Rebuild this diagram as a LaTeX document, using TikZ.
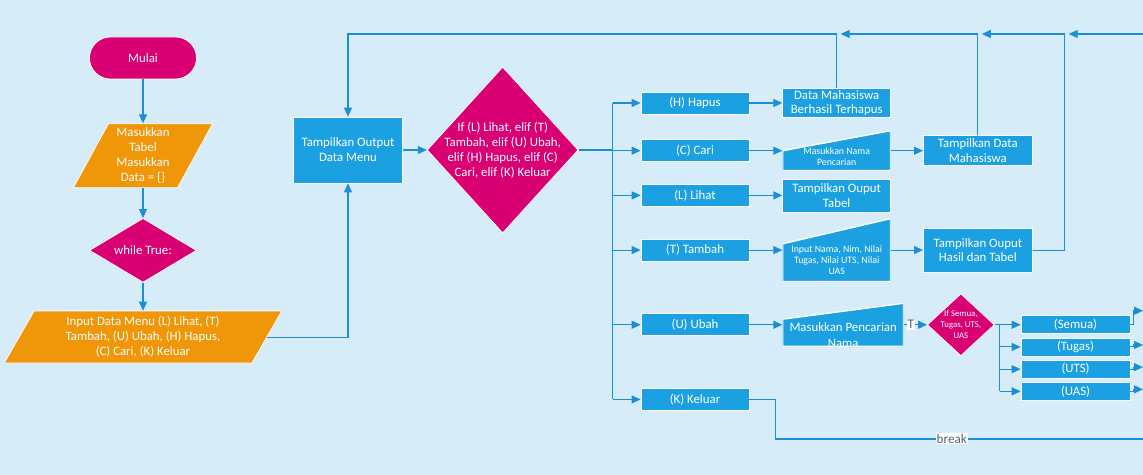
\documentclass[tikz,border=0pt]{standalone}
\usepackage{fontspec}
\setmainfont{Carlito}
\usepackage{tikz}
\usetikzlibrary{
  calc,
  positioning,
  arrows.meta,
  shapes.geometric
}
\definecolor{FlowBg}{HTML}{D6ECF8}
\definecolor{FlowBlue}{HTML}{1BA1E2}
\definecolor{FlowLine}{HTML}{1C8FD4}
\definecolor{FlowMagenta}{HTML}{D80073}
\definecolor{FlowOrange}{HTML}{F09609}
\definecolor{LabelGrey}{HTML}{4F6582}

\begin{document}
\begin{tikzpicture}[
  x=0.02cm, y=-0.02cm,
  every node/.style = {font=\fontsize{7.3}{8.5}\selectfont, text=white,
                       align=center, inner sep=1pt},
  terminal/.style   = {draw=white, fill=FlowMagenta, rounded corners=0.42cm,
                       minimum width=2.14cm, minimum height=0.84cm},
  io/.style         = {trapezium, trapezium left angle=64,
                       trapezium right angle=116, trapezium stretches=true,
                       draw=white, fill=FlowOrange},
  decision/.style   = {diamond, draw=white, fill=FlowMagenta, inner sep=0pt},
  box/.style        = {draw=white, fill=FlowBlue, minimum width=2.16cm,
                       minimum height=0.44cm},
  manin/.style      = {minimum width=2.16cm, inner sep=0pt,
                       path picture={\filldraw[fill=FlowBlue, draw=white, line width=0.8pt]
                         (path picture bounding box.south west)
                         -- (path picture bounding box.south east)
                         -- (path picture bounding box.north east)
                         -- ($(path picture bounding box.north west)!#1!(path picture bounding box.south west)$)
                         -- cycle;}},
  smalltext/.style  = {font=\fontsize{5.6}{6.4}\selectfont},
  tinytext/.style   = {font=\fontsize{5}{6.4}\selectfont},
  tlabel/.style     = {fill=white, text=LabelGrey, inner sep=0.5pt,
                       font=\fontsize{7.5}{9}\selectfont},
  arrow/.style      = {-{Triangle[length=0.18cm,width=0.16cm]}, FlowLine, line width=0.6pt},
  line/.style       = {FlowLine, line width=0.6pt}
]

  % Background
  \useasboundingbox (0,0) rectangle (1143,475);
  \fill[FlowBg] (0,0) rectangle (1143,475);

  % Start and input
  \node[terminal] (mulai) at (143,58) {Mulai};
  \node[io, minimum width=2.8cm, minimum height=1.28cm, below=0.88cm of mulai] (tabel)
    {Masukkan\\Tabel\\Masukkan\\Data = \{\}};
  \node[decision, minimum width=2.14cm, minimum height=1.28cm, below=0.6cm of tabel] (whilec) {};
  \node (whiletxt) at (whilec) {while True:};
  \node[io, minimum width=5.56cm, minimum height=1.04cm, below=0.56cm of whilec] (input)
    {Input Data Menu (L) Lihat, (T)\\Tambah, (U) Ubah, (H) Hapus,\\(C) Cari, (K) Keluar};

  % Menu and choice
  \node[box, minimum width=2.18cm, minimum height=1.32cm] (menu) at (348,150)
    {Tampilkan Output\\Data Menu};
  \node[decision, minimum width=3.02cm, minimum height=3.32cm, right=0.48cm of menu] (cond) {};
  \node (condtxt) at (cond)
    {If (L) Lihat, elif (T)\\Tambah, elif (U) Ubah,\\elif (H) Hapus, elif (C)\\Cari, elif (K) Keluar};

  % Menu options
  \node[box] (hapus) at (695,103) {(H) Hapus};
  \node[box, below=0.5cm of hapus] (cari) {(C) Cari};
  \node[box, below=0.44cm of cari] (lihat) {(L) Lihat};
  \node[box, below=0.64cm of lihat] (tambah) {(T) Tambah};
  \node[box, below=1.04cm of tambah] (ubah) {(U) Ubah};
  \node[box, below=1.04cm of ubah] (keluar) {(K) Keluar};

  % Actions
  \node[box, minimum height=0.58cm, inner sep=0pt, font=\fontsize{7.3}{7.8}\selectfont,
        right=0.66cm of hapus] (hapus2) {Data Mahasiswa\\Berhasil Terhapus};
  \node[manin=0.5, minimum height=0.8cm, right=0.66cm of cari] (cari2) {};
  \node[smalltext] (cari2txt) at ($(cari2)+(0,6)$) {Masukkan Nama\\Pencarian};
  \node[box, minimum height=0.66cm, inner sep=0pt, right=0.66cm of lihat] (lihat2)
    {Tampilkan Ouput\\Tabel};
  \node[manin=0.4, minimum height=1.26cm, right=0.66cm of tambah] (tambah2) {};
  \node[smalltext] (tambah2txt) at ($(tambah2)+(0,10)$)
    {Input Nama, Nim, Nilai\\Tugas, Nilai UTS, Nilai\\UAS};
  \node[manin=0.37, minimum width=2.42cm, minimum height=0.86cm, right=0.66cm of ubah] (ubah2) {};
  \node[font=\fontsize{7.3}{9}\selectfont] (ubah2txt) at ($(ubah2)+(0,10)$) {Masukkan Pencarian\\Nama};

  % Results
  \node[box, minimum width=2.18cm, minimum height=0.6cm, inner sep=0pt,
        right=0.64cm of cari2] (datamhs) {Tampilkan Data\\Mahasiswa};
  \node[box, minimum width=2.18cm, minimum height=0.88cm,
        right=0.64cm of tambah2] (hasil) {Tampilkan Ouput\\Hasil dan Tabel};

  % Edit choice
  \node[decision, minimum width=1.34cm, minimum height=1.24cm, right=0.46cm of ubah2] (sub) {};
  \node[tinytext] (subtxt) at (sub) {If Semua,\\Tugas, UTS,\\UAS};
  \node[box, minimum width=2.18cm, minimum height=0.36cm, right=0.52cm of sub] (semua) {(Semua)};
  \node[box, minimum width=2.18cm, minimum height=0.36cm, below=0.07cm of semua] (tugas) {(Tugas)};
  \node[box, minimum width=2.18cm, minimum height=0.36cm, below=0.07cm of tugas] (uts) {(UTS)};
  \node[box, minimum width=2.18cm, minimum height=0.36cm, below=0.07cm of uts] (uas) {(UAS)};

  % Off-page ends
  \coordinate (topright) at (1143,34);
  \coordinate (redge) at (1143,0);
  \coordinate (breakend) at (1143,439);

  % Main flow
  \draw[arrow] (mulai.south) -- (tabel.north);
  \draw[arrow] (tabel.south) -- (whilec.north);
  \draw[arrow] (whilec.south) -- (input.north);
  \draw[arrow] (input.east) -| (menu.south);
  \draw[arrow] (menu.east) -- (cond.west);

  % Branches to options
  \coordinate[right=0.68cm of cond.east] (trunk);
  \draw[line] (cond.east) -- (trunk);
  \draw[line] (trunk |- hapus.west) -- (trunk |- keluar.west);
  \foreach \b in {hapus,cari,lihat,tambah,ubah,keluar}
    \draw[arrow] (trunk |- \b.west) -- (\b.west);

  % Options to actions
  \foreach \a/\b in {hapus/hapus2,cari/cari2,lihat/lihat2,tambah/tambah2,ubah/ubah2}
    \draw[arrow] (\a.east) -- (\b.west);
  \draw[arrow] (cari2.east) -- (datamhs.west);
  \draw[arrow] (tambah2.east) -- (hasil.west);
  \draw[arrow] (ubah2.east) -- node[tlabel, pos=0.3]{T} (sub.west);

  % Edit branches
  \coordinate[right=0.1cm of sub.east] (subtrunk);
  \draw[line] (sub.east) -- (subtrunk) -- (subtrunk |- uas.west);
  \foreach \b in {semua,tugas,uts,uas}
    \draw[arrow] (subtrunk |- \b.west) -- (\b.west);
  \draw[arrow] (semua.east) -- ++(3,0) |- ($(redge |- semua.east)+(0,-14)$);
  \foreach \b in {tugas,uts,uas}
    \draw[arrow] (\b.east) -- ++(3,0) |- ($(redge |- \b.east)+(0,-2)$);

  % Exit
  \draw[line] (keluar.east) -- ++(26,0) |- (breakend) node[tlabel, pos=0.74]{break};

  % Return to menu
  \draw[arrow] (hapus2.north) |- (topright -| menu.north) -- (menu.north);
  \draw[arrow] (datamhs.north) |- ($(topright -| hapus2.north)+(4,0)$);
  \draw[arrow] (hasil.east) -- ++(32,0) coordinate (hasilup) |- ($(topright -| datamhs.north)+(4,0)$);
  \draw[arrow] (topright) -- ($(topright -| hasilup)+(4,0)$);

\end{tikzpicture}
\end{document}
